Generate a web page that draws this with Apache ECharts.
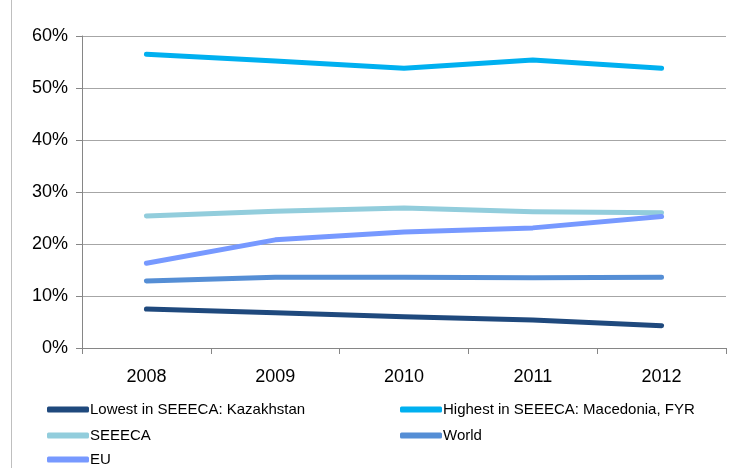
<!DOCTYPE html>
<html>
<head>
<meta charset="utf-8">
<script src="https://cdn.jsdelivr.net/npm/echarts@6/dist/echarts.min.js"></script>
<style>
  html, body { margin: 0; padding: 0; background: #fff; }
  #chart { width: 735px; height: 468px; }
</style>
</head>
<body>
<div id="chart"></div>
<script>
// data (percent)
const years = ['2008', '2009', '2010', '2011', '2012'];
const lowest = [7.5, 6.8, 6.0, 5.4, 4.3];
const highest = [56.5, 55.2, 53.8, 55.4, 53.8];
const seeeca = [25.4, 26.3, 26.9, 26.2, 26.0];
const world = [12.9, 13.6, 13.6, 13.5, 13.6];
const eu = [16.3, 20.8, 22.3, 23.1, 25.3];

const names = ['Lowest in SEEECA: Kazakhstan', 'Highest in SEEECA: Macedonia, FYR', 'SEEECA', 'World', 'EU'];
const colors = ['#1f497d', '#00b0f0', '#92cddc', '#558ed5', '#7799ff'];
const values = [lowest, highest, seeeca, world, eu];

const font = 'Liberation Sans';
const chart = echarts.init(document.getElementById('chart'));

function legendAt(left, top, data) {
  return {
    left: left, top: top, orient: 'horizontal',
    data: data, icon: 'roundRect', itemWidth: 42, itemHeight: 6,
    itemGap: 0, padding: 0, selectedMode: false,
    textStyle: { fontFamily: font, fontSize: 15, color: '#000', padding: [0, 0, 0, -4] }
  };
}

chart.setOption({
  animation: false,
  color: colors,
  grid: { left: 82, right: 9, top: 36, bottom: 120 },
  graphic: [{
    type: 'line', shape: { x1: 11.5, y1: 0, x2: 11.5, y2: 468 },
    style: { stroke: '#bfbfbf', lineWidth: 1 }
  }],
  legend: [
    legendAt(47, 402, [names[0]]),
    legendAt(400, 402, [names[1]]),
    legendAt(47, 428, [names[2]]),
    legendAt(400, 428, [names[3]]),
    legendAt(47, 452, [names[4]])
  ],
  xAxis: {
    type: 'category', data: years, boundaryGap: true,
    axisLine: { lineStyle: { color: '#868686', width: 1 } },
    axisTick: { show: true, length: 6, lineStyle: { color: '#868686' } },
    axisLabel: { fontFamily: font, fontSize: 18, color: '#000', margin: 20 },
    splitLine: { show: false }
  },
  yAxis: {
    type: 'value', min: 0, max: 60, interval: 10,
    axisLine: { show: true, lineStyle: { color: '#868686', width: 1 } },
    axisTick: { show: true, length: 6, lineStyle: { color: '#868686' } },
    axisLabel: { fontFamily: font, fontSize: 18, color: '#000', margin: 14, formatter: '{value}%' },
    splitLine: { lineStyle: { color: '#a6a6a6', width: 1 } }
  },
  series: values.map((v, i) => ({
    name: names[i], type: 'line', data: v,
    showSymbol: false, symbol: 'none',
    lineStyle: { width: 5, color: colors[i], cap: 'round', join: 'round' },
    itemStyle: { color: colors[i] }
  }))
});
</script>
</body>
</html>
